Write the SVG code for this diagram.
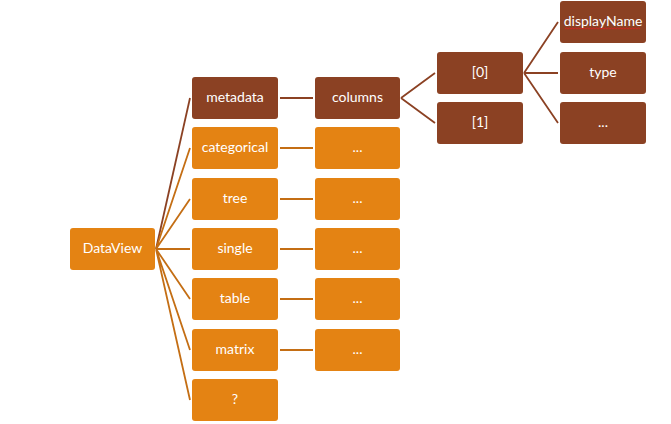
<svg xmlns="http://www.w3.org/2000/svg" width="671" height="424" viewBox="0 0 671 424">
<style>
.o{fill:#E48313}
.b{fill:#8B4123}
text{font-family:Lato,"Open Sans","Liberation Sans",sans-serif;font-size:14px;fill:#fff;text-anchor:middle;dominant-baseline:central}
.lo{stroke:#C46E14;stroke-width:1.8;fill:none}
.lb{stroke:#8B4123;stroke-width:1.8;fill:none}
</style>
<rect width="671" height="424" fill="#fff"/>
<g id="connectors">
<path class="lb" d="M156,249 L190,98"/>
<path class="lo" d="M156,249 L190,148 M156,249 L190,199 M156,249 L190,249 M156,249 L190,299 M156,249 L190,350 M156,249 L190,400"/>
<path class="lb" d="M280,98 L313,98"/>
<path class="lo" d="M280,148 L313,148 M280,199 L313,199 M280,249 L313,249 M280,299 L313,299 M280,350 L313,350"/>
<path class="lb" d="M401,98 L435,73 M401,98 L435,123"/>
<path class="lb" d="M524,73 L558,22 M524,73 L558,73 M524,73 L558,123"/>
</g>
<g id="dataview"><rect class="o" x="70" y="228" width="85" height="42" rx="3"/><text x="112.5" y="247.5">DataView</text></g>
<g id="metadata"><rect class="b" x="192" y="77" width="86" height="42" rx="3"/><text x="235" y="96.5">metadata</text></g>
<g id="categorical"><rect class="o" x="192" y="127" width="86" height="42" rx="3"/><text x="235" y="146.5">categorical</text></g>
<g id="tree"><rect class="o" x="192" y="178" width="86" height="42" rx="3"/><text x="235" y="197.5">tree</text></g>
<g id="single"><rect class="o" x="192" y="228" width="86" height="42" rx="3"/><text x="235" y="247.5">single</text></g>
<g id="table"><rect class="o" x="192" y="278" width="86" height="42" rx="3"/><text x="235" y="297.5">table</text></g>
<g id="matrix"><rect class="o" x="192" y="329" width="86" height="42" rx="3"/><text x="235" y="348.5">matrix</text></g>
<g id="unknown"><rect class="o" x="192" y="379" width="86" height="42" rx="3"/><text x="235" y="398.5">?</text></g>
<g id="columns"><rect class="b" x="315" y="77" width="85" height="42" rx="3"/><text x="357.5" y="96.5">columns</text></g>
<g id="cat-more"><rect class="o" x="315" y="127" width="85" height="42" rx="3"/><text x="357.5" y="146.5">...</text></g>
<g id="tree-more"><rect class="o" x="315" y="178" width="85" height="42" rx="3"/><text x="357.5" y="197.5">...</text></g>
<g id="single-more"><rect class="o" x="315" y="228" width="85" height="42" rx="3"/><text x="357.5" y="247.5">...</text></g>
<g id="table-more"><rect class="o" x="315" y="278" width="85" height="42" rx="3"/><text x="357.5" y="297.5">...</text></g>
<g id="matrix-more"><rect class="o" x="315" y="329" width="85" height="42" rx="3"/><text x="357.5" y="348.5">...</text></g>
<g id="col0"><rect class="b" x="437" y="52" width="86" height="42" rx="3"/><text x="480" y="71.5">[0]</text></g>
<g id="col1"><rect class="b" x="437" y="102" width="86" height="42" rx="3"/><text x="480" y="121.5">[1]</text></g>
<g id="displayName"><rect class="b" x="560" y="1" width="86" height="42" rx="3"/><text x="603" y="20.5">displayName</text><path d="M565,29 l1.5,-1 l1.5,1 l1.5,-1 l1.5,1 l1.5,-1 l1.5,1 l1.5,-1 l1.5,1 l1.5,-1 l1.5,1 l1.5,-1 l1.5,1 l1.5,-1 l1.5,1 l1.5,-1 l1.5,1 l1.5,-1 l1.5,1 l1.5,-1 l1.5,1 l1.5,-1 l1.5,1 l1.5,-1 l1.5,1 l1.5,-1 l1.5,1 l1.5,-1 l1.5,1 l1.5,-1 l1.5,1 l1.5,-1 l1.5,1 l1.5,-1 l1.5,1 l1.5,-1 l1.5,1 l1.5,-1 l1.5,1 l1.5,-1 l1.5,1 l1.5,-1 l1.5,1 l1.5,-1 l1.5,1 l1.5,-1 l1.5,1 l1.5,-1 l1.5,1 l1.5,-1 l1.5,1" fill="none" stroke="#E02020" stroke-width="0.8"/></g>
<g id="type"><rect class="b" x="560" y="52" width="86" height="42" rx="3"/><text x="603" y="71.5">type</text></g>
<g id="col0-more"><rect class="b" x="560" y="102" width="86" height="42" rx="3"/><text x="603" y="121.5">...</text></g>
</svg>
